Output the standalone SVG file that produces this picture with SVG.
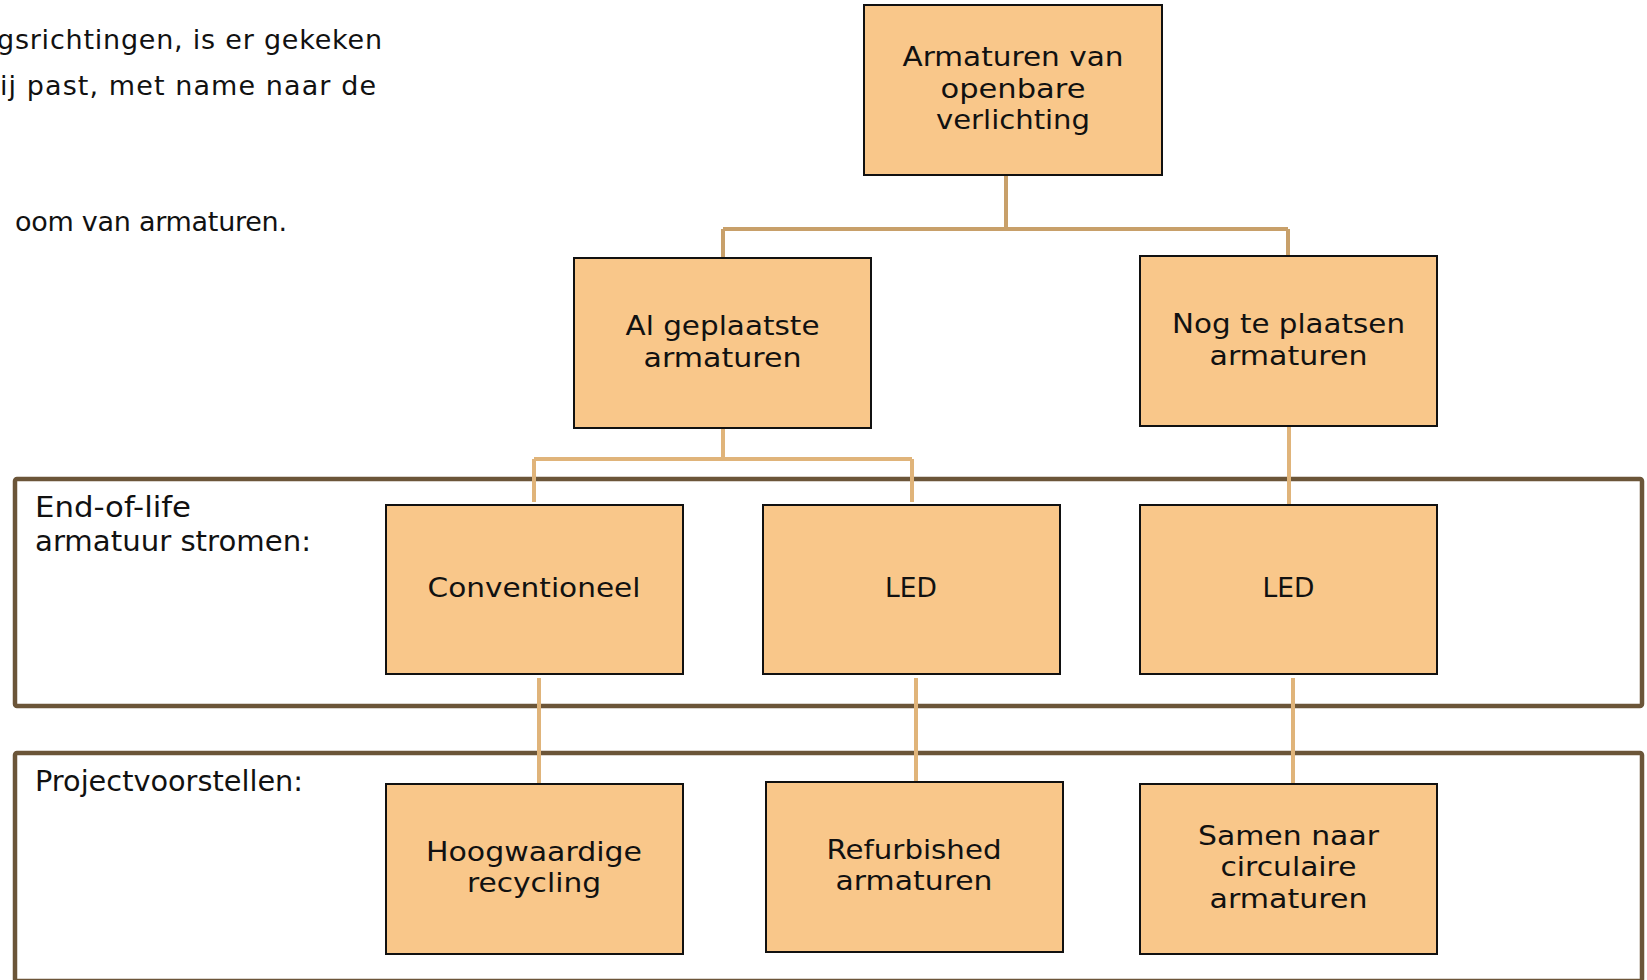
<svg xmlns="http://www.w3.org/2000/svg" width="1647" height="980" viewBox="0 0 1647 980">
  <style>
    text { font-family: "DejaVu Sans", "Liberation Sans", sans-serif; fill: #111; }
    .body { font-size: 27px; }
    .lbl { font-size: 28px; }
    .node rect { fill: #f9c78a; stroke: #111; stroke-width: 2; }
    .node text { font-size: 26.5px; text-anchor: middle; }
    .frame { fill: none; stroke: #6b5538; stroke-width: 4.5; }
    .c-top { fill: none; stroke: #c8a06a; stroke-width: 4; }
    .c-low { fill: none; stroke: #e0b47a; stroke-width: 4; }
  </style>
  <rect width="1647" height="980" fill="#fff"/>

  <!-- paragraph fragment at top left -->
  <g id="intro">
    <text class="body" x="-3" y="49" textLength="385" lengthAdjust="spacing">gsrichtingen, is er gekeken</text>
    <text class="body" x="0" y="95" textLength="376" lengthAdjust="spacing">ij past, met name naar de</text>
    <text class="body" x="15" y="231" textLength="272" lengthAdjust="spacing">oom van armaturen.</text>
  </g>

  <!-- stage frames -->
  <g id="frame-eol">
    <rect class="frame" x="15" y="479" width="1627" height="227" rx="2"/>
    <text class="lbl" x="35" y="517" textLength="156" lengthAdjust="spacingAndGlyphs">End-of-life</text>
    <text class="lbl" x="35" y="551" textLength="276" lengthAdjust="spacingAndGlyphs">armatuur stromen:</text>
  </g>
  <g id="frame-projects">
    <rect class="frame" x="15" y="753" width="1627" height="228" rx="2"/>
    <text class="lbl" x="35" y="791" textLength="268" lengthAdjust="spacingAndGlyphs">Projectvoorstellen:</text>
  </g>

  <!-- connectors -->
  <g id="connectors">
    <path class="c-top" d="M1006 175 V229 M723 229 H1288 M723 229 V258 M1288 229 V256"/>
    <path class="c-low" d="M723 428 V459 M534 459 H912 M534 459 V502 M912 459 V502"/>
    <path class="c-low" d="M1289 426 V505"/>
    <path class="c-low" d="M539 678 V784 M916 678 V782 M1293 678 V784"/>
  </g>

  <!-- nodes (glyphs widened to the layout's line widths) -->
  <g id="n-root" class="node">
    <rect x="864" y="5" width="298" height="170"/>
    <text x="1013" y="66" textLength="221" lengthAdjust="spacingAndGlyphs">Armaturen van</text>
    <text x="1013" y="98" textLength="145" lengthAdjust="spacingAndGlyphs">openbare</text>
    <text x="1013" y="129" textLength="154" lengthAdjust="spacingAndGlyphs">verlichting</text>
  </g>
  <g id="n-placed" class="node">
    <rect x="574" y="258" width="297" height="170"/>
    <text x="722.5" y="335" textLength="194" lengthAdjust="spacingAndGlyphs">Al geplaatste</text>
    <text x="722.5" y="367" textLength="158" lengthAdjust="spacingAndGlyphs">armaturen</text>
  </g>
  <g id="n-planned" class="node">
    <rect x="1140" y="256" width="297" height="170"/>
    <text x="1288.5" y="333" textLength="233" lengthAdjust="spacingAndGlyphs">Nog te plaatsen</text>
    <text x="1288.5" y="365" textLength="158" lengthAdjust="spacingAndGlyphs">armaturen</text>
  </g>
  <g id="n-conv" class="node">
    <rect x="386" y="505" width="297" height="169"/>
    <text x="534" y="597" textLength="213" lengthAdjust="spacingAndGlyphs">Conventioneel</text>
  </g>
  <g id="n-led1" class="node">
    <rect x="763" y="505" width="297" height="169"/>
    <text x="911" y="597">LED</text>
  </g>
  <g id="n-led2" class="node">
    <rect x="1140" y="505" width="297" height="169"/>
    <text x="1288.5" y="597">LED</text>
  </g>
  <g id="n-recycling" class="node">
    <rect x="386" y="784" width="297" height="170"/>
    <text x="534" y="861" textLength="216" lengthAdjust="spacingAndGlyphs">Hoogwaardige</text>
    <text x="534" y="892" textLength="134" lengthAdjust="spacingAndGlyphs">recycling</text>
  </g>
  <g id="n-refurb" class="node">
    <rect x="766" y="782" width="297" height="170"/>
    <text x="914" y="859" textLength="175" lengthAdjust="spacingAndGlyphs">Refurbished</text>
    <text x="914" y="890" textLength="157" lengthAdjust="spacingAndGlyphs">armaturen</text>
  </g>
  <g id="n-circular" class="node">
    <rect x="1140" y="784" width="297" height="170"/>
    <text x="1288.5" y="845" textLength="181" lengthAdjust="spacingAndGlyphs">Samen naar</text>
    <text x="1288.5" y="876" textLength="136" lengthAdjust="spacingAndGlyphs">circulaire</text>
    <text x="1288.5" y="908" textLength="158" lengthAdjust="spacingAndGlyphs">armaturen</text>
  </g>
</svg>
